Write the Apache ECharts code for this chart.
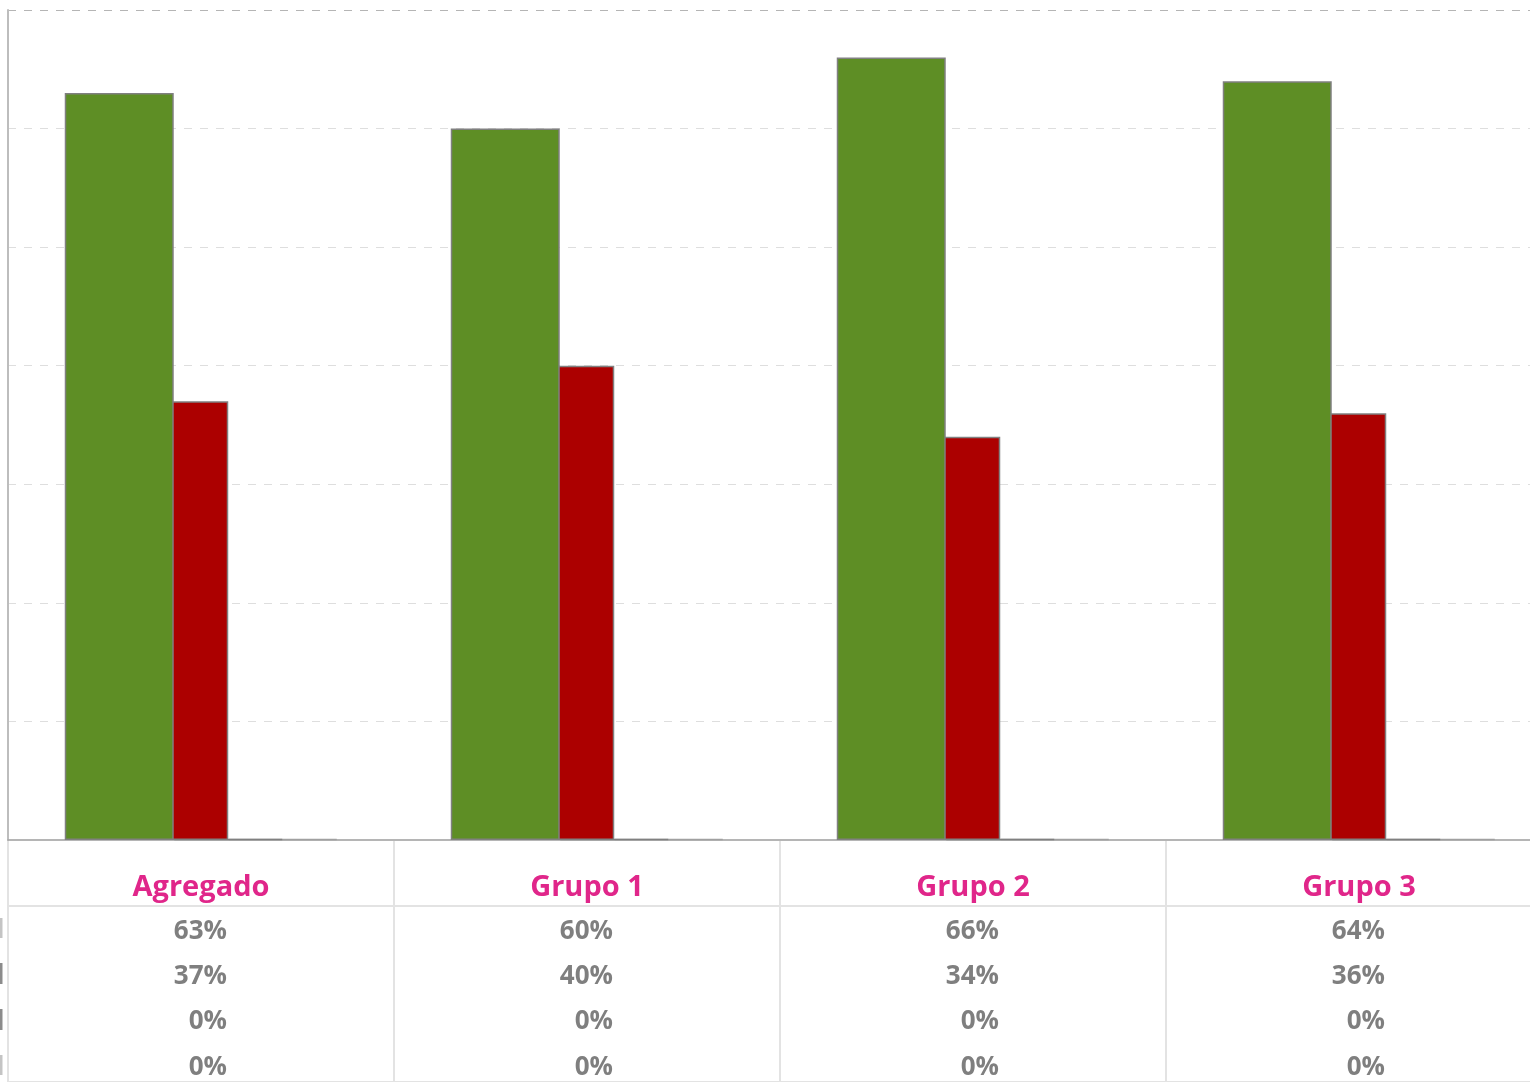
<!DOCTYPE html>
<html>
<head>
<meta charset="utf-8">
<script src="https://cdn.jsdelivr.net/npm/echarts@6/dist/echarts.min.js"></script>
<style>
html,body{margin:0;padding:0;background:#fff;}
#chart{width:1530px;height:1082px;}
</style>
</head>
<body>
<div id="chart"></div>
<script>
const categories = ['Agregado', 'Grupo 1', 'Grupo 2', 'Grupo 3'];
const serie1 = [63, 60, 66, 64];
const serie2 = [37, 40, 34, 36];
const serie3 = [0, 0, 0, 0];
const serie4 = [0, 0, 0, 0];
const yTicks = [0, 10, 20, 30, 40, 50, 60, 70];

const FONT = "'Open Sans', 'Noto Sans', sans-serif";
const rowSeries = [serie1, serie2, serie3, serie4];
const rowMargins = [79, 124, 169, 215];

const chart = echarts.init(document.getElementById('chart'), null, {renderer: 'canvas'});

const gridColors = yTicks.map((t, i) => i === yTicks.length - 1 ? '#b5b5b5' : '#dedede');

const xAxes = [{
  type: 'category', gridIndex: 0, data: categories, position: 'bottom',
  axisLine: {show: true, lineStyle: {color: '#a6a6a6', width: 1.5}},
  axisTick: {show: false},
  axisLabel: {interval: 0, margin: 33, color: '#E0268A', fontFamily: FONT, fontWeight: 'bold', fontSize: 29, lineHeight: 29},
  splitLine: {show: false}
}, {
  type: 'category', gridIndex: 1, data: categories, boundaryGap: true,
  axisLine: {show: false}, axisTick: {show: false}, axisLabel: {show: false},
  splitLine: {show: true, interval: 0, lineStyle: {color: '#e3e3e3', width: 2}}
}];
rowSeries.forEach((arr, i) => {
  xAxes.push({
    type: 'category', gridIndex: 0, position: 'bottom', offset: 0,
    data: arr.map(v => v + '%'),
    axisLine: {show: false}, axisTick: {show: false}, splitLine: {show: false},
    axisLabel: {
      interval: 0, margin: rowMargins[i],
      formatter: v => '{v|' + v + '}',
      rich: {v: {width: 52, align: 'right', color: '#7f7f7f', fontFamily: FONT, fontWeight: 'bold', fontSize: 26, lineHeight: 26}}
    }
  });
});

function barSeries(name, data, color, border, z, minH) {
  return {
    name: name, type: 'bar', xAxisIndex: 0, yAxisIndex: 0, data: data,
    barWidth: 109, barGap: '-50%', z: z, barMinHeight: minH,
    itemStyle: {color: color, borderColor: border, borderWidth: 1.5},
    emphasis: {disabled: true}
  };
}

const option = {
  animation: false,
  grid: [
    {left: 8, top: 10, right: -22, bottom: 242, containLabel: false, outerBoundsMode: 'none'},
    {left: 8, top: 840, right: -22, bottom: 0, containLabel: false, outerBoundsMode: 'none'}
  ],
  xAxis: xAxes,
  yAxis: [{
    type: 'value', gridIndex: 0, min: yTicks[0], max: yTicks[yTicks.length - 1], interval: 10,
    axisLine: {show: true, lineStyle: {color: '#bdbdbd', width: 2}},
    axisTick: {show: false}, axisLabel: {show: false},
    splitLine: {show: true, lineStyle: {color: gridColors, type: [8, 8], width: 1}}
  }, {
    type: 'value', gridIndex: 1, min: 0, max: 242, interval: 176,
    axisLine: {show: false}, axisTick: {show: false}, axisLabel: {show: false},
    splitLine: {show: true, lineStyle: {color: '#e3e3e3', width: 2}}
  }],
  series: [
    barSeries('Serie 1', serie1, '#5E8E25', '#808080', 4, 0),
    barSeries('Serie 2', serie2, '#AC0000', '#808080', 3, 0),
    barSeries('Serie 3', serie3, '#808080', '#808080', 2, 1),
    barSeries('Serie 4', serie4, '#a0a0a0', '#a0a0a0', 1, 1)
  ],
  graphic: [
    {type: 'rect', left: 0, top: 918, shape: {width: 2.5, height: 20}, style: {fill: '#c4c4c4'}},
    {type: 'rect', left: 0, top: 963, shape: {width: 2.5, height: 21}, style: {fill: '#8c8c8c'}},
    {type: 'rect', left: 0, top: 1009, shape: {width: 2.5, height: 21}, style: {fill: '#8c8c8c'}},
    {type: 'rect', left: 0, top: 1055, shape: {width: 2.5, height: 20}, style: {fill: '#c4c4c4'}}
  ]
};
chart.setOption(option);
</script>
</body>
</html>
